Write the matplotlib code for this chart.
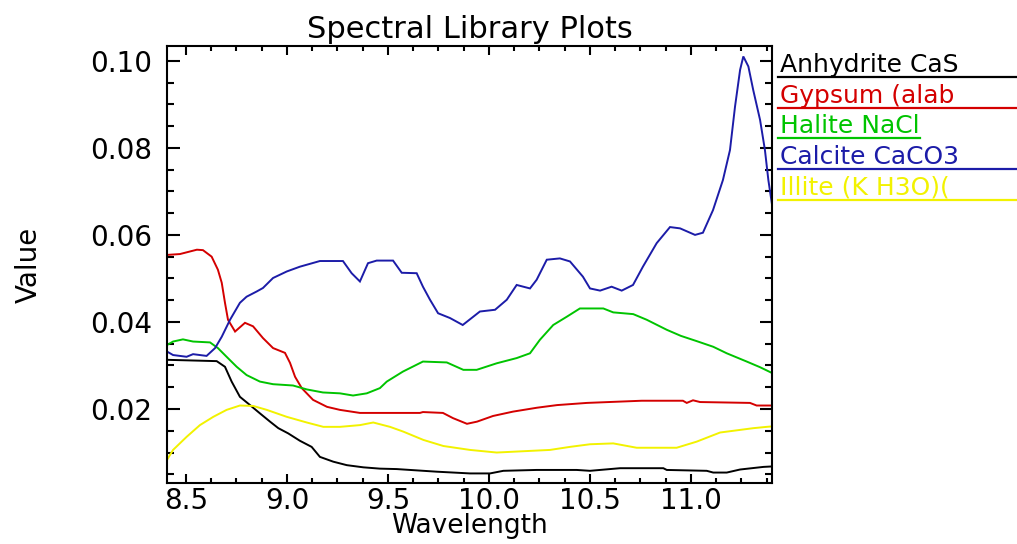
import numpy as np
import matplotlib
matplotlib.use("Agg")
import matplotlib.pyplot as plt
from matplotlib.lines import Line2D
from matplotlib.ticker import MultipleLocator, FormatStrFormatter

# ---------------- data ----------------
anhydrite_x = [8.406, 8.652, 8.693, 8.726, 8.767, 8.817, 8.866, 8.916, 8.957, 9.006,
               9.064, 9.122, 9.163, 9.229, 9.296, 9.378, 9.460, 9.543, 9.741, 9.906,
               10.005, 10.071, 10.236, 10.434, 10.500, 10.649, 10.863, 10.880, 11.078,
               11.110, 11.177, 11.243, 11.359, 11.400]
anhydrite_y = [0.0313, 0.0310, 0.0297, 0.0263, 0.0228, 0.0209, 0.0190, 0.0171, 0.0156, 0.0144,
               0.0127, 0.0113, 0.0090, 0.0079, 0.0071, 0.0066, 0.0063, 0.0062, 0.0056, 0.0052,
               0.0052, 0.0058, 0.0060, 0.0060, 0.0058, 0.0064, 0.0064, 0.0060, 0.0058,
               0.0054, 0.0054, 0.0061, 0.0067, 0.0068]

gypsum_x = [8.406, 8.470, 8.554, 8.584, 8.627, 8.658, 8.677, 8.693, 8.708, 8.743,
            8.792, 8.832, 8.881, 8.931, 8.990, 9.015, 9.040, 9.073, 9.129, 9.198,
            9.262, 9.361, 9.460, 9.658, 9.673, 9.772, 9.822, 9.891, 9.941, 10.020,
            10.119, 10.238, 10.337, 10.485, 10.756, 10.960, 10.979, 11.010, 11.045,
            11.292, 11.325, 11.400]
gypsum_y = [0.0554, 0.0556, 0.0566, 0.0565, 0.0550, 0.0520, 0.0490, 0.0444, 0.0405, 0.0378,
            0.0398, 0.0390, 0.0363, 0.0340, 0.0329, 0.0306, 0.0274, 0.0248, 0.0221, 0.0205,
            0.0198, 0.0191, 0.0191, 0.0191, 0.0193, 0.0191, 0.0179, 0.0166, 0.0171, 0.0184,
            0.0194, 0.0203, 0.0209, 0.0214, 0.0219, 0.0219, 0.0214, 0.0220, 0.0216,
            0.0214, 0.0208, 0.0208]

halite_x = [8.406, 8.436, 8.485, 8.535, 8.619, 8.658, 8.701, 8.751, 8.800, 8.866,
            8.931, 9.030, 9.098, 9.178, 9.262, 9.327, 9.395, 9.460, 9.494, 9.574,
            9.673, 9.791, 9.873, 9.939, 10.038, 10.137, 10.203, 10.252, 10.318, 10.385,
            10.450, 10.566, 10.615, 10.714, 10.781, 10.880, 10.950, 11.028, 11.110,
            11.177, 11.276, 11.342, 11.400]
halite_y = [0.0347, 0.0355, 0.0360, 0.0355, 0.0353, 0.0340, 0.0320, 0.0297, 0.0278, 0.0263,
            0.0257, 0.0254, 0.0245, 0.0238, 0.0236, 0.0231, 0.0236, 0.0248, 0.0263, 0.0286,
            0.0309, 0.0307, 0.0290, 0.0290, 0.0305, 0.0317, 0.0328, 0.0359, 0.0393, 0.0412,
            0.0431, 0.0431, 0.0422, 0.0418, 0.0405, 0.0382, 0.0368, 0.0356, 0.0343,
            0.0328, 0.0309, 0.0296, 0.0283]

calcite_x = [8.406, 8.436, 8.503, 8.535, 8.602, 8.644, 8.677, 8.718, 8.767, 8.800,
             8.850, 8.881, 8.931, 8.999, 9.064, 9.163, 9.277, 9.320, 9.361, 9.401,
             9.444, 9.525, 9.568, 9.642, 9.673, 9.708, 9.748, 9.807, 9.870, 9.955,
             10.030, 10.088, 10.137, 10.203, 10.236, 10.286, 10.351, 10.401, 10.465,
             10.500, 10.550, 10.607, 10.657, 10.713, 10.762, 10.830, 10.896, 10.946,
             11.020, 11.059, 11.109, 11.158, 11.193, 11.218, 11.243, 11.259, 11.284,
             11.308, 11.342, 11.366, 11.383, 11.400]
calcite_y = [0.0332, 0.0324, 0.0320, 0.0326, 0.0322, 0.0340, 0.0366, 0.0405, 0.0444, 0.0458,
             0.0470, 0.0478, 0.0501, 0.0516, 0.0527, 0.0540, 0.0540, 0.0512, 0.0493, 0.0535,
             0.0541, 0.0541, 0.0513, 0.0512, 0.0481, 0.0451, 0.0420, 0.0409, 0.0393, 0.0424,
             0.0428, 0.0451, 0.0485, 0.0477, 0.0497, 0.0543, 0.0546, 0.0539, 0.0504,
             0.0477, 0.0472, 0.0481, 0.0472, 0.0485, 0.0527, 0.0581, 0.0618, 0.0615,
             0.0600, 0.0605, 0.0657, 0.0726, 0.0795, 0.0895, 0.0979, 0.1010, 0.0987,
             0.0933, 0.0864, 0.0795, 0.0726, 0.0673]

illite_x = [8.406, 8.436, 8.503, 8.569, 8.635, 8.701, 8.767, 8.833, 8.900, 8.999,
            9.098, 9.180, 9.262, 9.361, 9.427, 9.510, 9.576, 9.675, 9.774, 9.906,
            10.038, 10.170, 10.302, 10.401, 10.500, 10.615, 10.731, 10.929, 11.028,
            11.144, 11.243, 11.309, 11.375, 11.400]
illite_y = [0.0083, 0.0106, 0.0136, 0.0163, 0.0182, 0.0198, 0.0208, 0.0207, 0.0198, 0.0182,
            0.0169, 0.0159, 0.0159, 0.0163, 0.0169, 0.0159, 0.0148, 0.0129, 0.0115, 0.0106,
            0.0100, 0.0103, 0.0106, 0.0113, 0.0119, 0.0121, 0.0111, 0.0111, 0.0125,
            0.0146, 0.0152, 0.0156, 0.0159, 0.0160]

series_labels = ["Anhydrite CaS", "Gypsum (alab", "Halite NaCl", "Calcite CaCO3", "Illite (K H3O)("]
series_colors = ["#000000", "#d40000", "#00c400", "#1c1ca8", "#f2f200"]
label_truncated = [True, True, False, True, True]

x_ticks = [8.5, 9.0, 9.5, 10.0, 10.5, 11.0]
y_ticks = [0.02, 0.04, 0.06, 0.08, 0.10]

# ---------------- figure ----------------
W, H = 1017, 544
fig = plt.figure(figsize=(W / 100, H / 100), dpi=100, facecolor="white")
ax = fig.add_axes([167 / W, 1 - 483 / H, 605 / W, 437 / H])

xs = [anhydrite_x, gypsum_x, halite_x, calcite_x, illite_x]
ys = [anhydrite_y, gypsum_y, halite_y, calcite_y, illite_y]
for x, y, c in zip(xs, ys, series_colors):
    ax.plot(x, y, color=c, lw=1.4, solid_joinstyle="miter")

ax.set_xlim(8.406, 11.401)
ax.set_ylim(0.0030, 0.1034)
ax.set_xticks(x_ticks)
ax.set_yticks(y_ticks)
ax.xaxis.set_major_formatter(FormatStrFormatter("%.1f"))
ax.yaxis.set_major_formatter(FormatStrFormatter("%.2f"))
ax.xaxis.set_minor_locator(MultipleLocator(0.125))
ax.yaxis.set_minor_locator(MultipleLocator(0.005))

for s in ax.spines.values():
    s.set_linewidth(1.5)
ax.tick_params(axis="both", which="both", direction="in", top=True, right=True,
               width=1.5, labelsize=20, colors="black")
ax.tick_params(axis="x", which="major", length=6.5, pad=3)
ax.tick_params(axis="x", which="minor", length=3.3)
ax.tick_params(axis="y", which="major", length=9, pad=11)
ax.tick_params(axis="y", which="minor", length=4.8)

ax.set_title("Spectral Library Plots", fontsize=22, pad=6)
ax.set_xlabel("Wavelength", fontsize=19, labelpad=-1.5)
ax.set_ylabel("Value", fontsize=20)
ax.yaxis.set_label_coords(-0.205, 0.5)

# ---------------- legend: underlined coloured names to the right ----------------
fig.canvas.draw()
renderer = fig.canvas.get_renderer()
x0 = 780
for i, (lab, c, trunc) in enumerate(zip(series_labels, series_colors, label_truncated)):
    uy = 77 + 30.7 * i
    t = fig.text(x0 / W, 1 - (uy - 5) / H, lab, color=c, fontsize=18,
                 ha="left", va="baseline")
    bb = t.get_window_extent(renderer)
    x_end = W if trunc else bb.x1
    fig.add_artist(Line2D([(x0 - 2) / W, x_end / W], [1 - uy / H, 1 - uy / H],
                          transform=fig.transFigure, color=c, lw=1.6))

fig.savefig("out.png", dpi=100, facecolor="white")
